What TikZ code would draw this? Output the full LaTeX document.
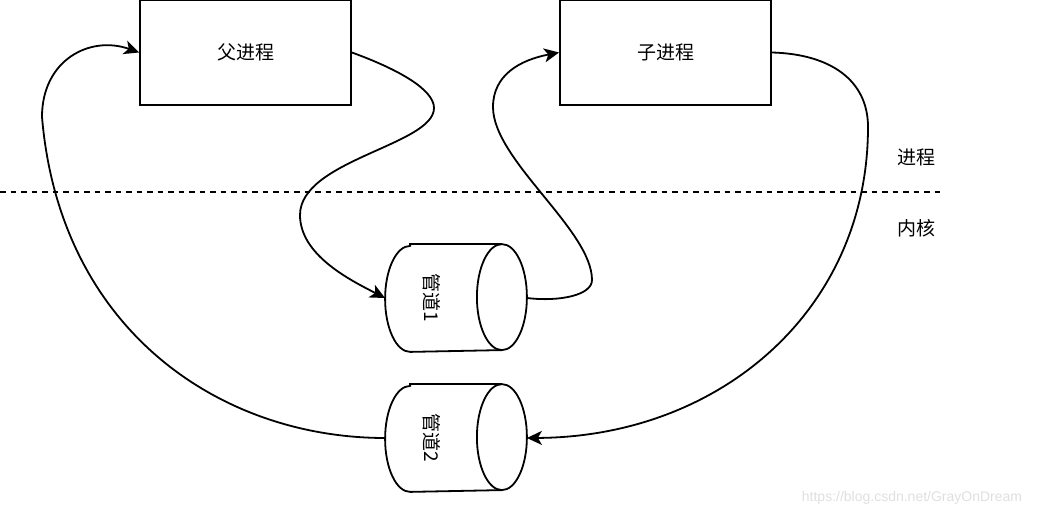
\documentclass[tikz,border=0pt]{standalone}
\usepackage{fontspec}
\usepackage{tikz}
\usetikzlibrary{arrows.meta}
\setmainfont{Liberation Sans}
\newfontfamily\cjk{Noto Sans CJK SC}

% horizontal cylinder drawn round a (borderless) node
\newcommand{\pipeoutline}[1]{
  \draw[-] ([xshift=25pt]#1.north west) -- ([xshift=-25pt]#1.north east)
      arc[start angle=-90,end angle=90,x radius=25,y radius=53]
      -- ([xshift=25pt]#1.south west)
      arc[start angle=90,end angle=270,x radius=25,y radius=53] -- cycle;
  \draw[-] ([xshift=-25pt]#1.north east) arc[start angle=270,end angle=90,x radius=25,y radius=53];
}

\begin{document}
\begin{tikzpicture}[x=1pt,y=-1pt,>={Stealth[length=15pt,width=14pt,inset=4pt]},->,
                    line width=1.8pt,node distance=420pt,
                    proc node/.style={rectangle,draw,minimum width=211pt,minimum height=105pt,font=\cjk\fontsize{19}{22}\selectfont},
                    pipe node/.style={rectangle,minimum width=140pt,minimum height=106pt,inner sep=0pt},
                    pipe text/.style={inner sep=0pt,font=\cjk\fontsize{19}{22}\selectfont},
                    side label/.style={font=\cjk\fontsize{19}{22}\selectfont}]

  \useasboundingbox (0,0) rectangle (1047,518);

  \node[proc node] (parent) at (245.5,52.5) {父进程};
  \node[proc node] (child) [right of=parent] {子进程};
  \node[pipe node] (pipe1) at (456,298) {};
  \node[pipe node] (pipe2) at (456,438) {};
  \pipeoutline{pipe1}
  \pipeoutline{pipe2}
  \node[pipe text] (pipe1 text) at ([xshift=-24pt]pipe1.center) {\rotatebox{-90}{管道1}};
  \node[pipe text] (pipe2 text) at ([xshift=-24pt]pipe2.center) {\rotatebox{-90}{管道2}};

  \node[side label] (user) at (916,157) {进程};
  \node[side label] (kernel) at (916,228) {内核};

  % user space / kernel space
  \draw[-,line width=1.5pt,dash pattern=on 5.5pt off 5pt] (0,192) -- (940,192);

  \draw (parent.east) .. controls (400,70) and (434,90) .. (434,108)
                      .. controls (434,145) and (300,160) .. (300,215)
                      .. controls (300,255) and (350,280) .. (pipe1.west);
  \draw (pipe1.east) .. controls (560,302) and (592,295) .. (592,280)
                     .. controls (592,230) and (493,160) .. (493,107)
                     .. controls (493,75) and (520,60) .. (child.west);
  \draw (child.east) .. controls (830,54) and (868,80) .. (868,127)
                     .. controls (868,310) and (720,437) .. (pipe2.east);
  \draw (pipe2.west) .. controls (220,438) and (60,330) .. (42,117)
                     .. controls (42,60) and (90,35) .. (parent.west);

  \node[text=gray!25,font=\fontsize{14}{16}\selectfont] (mark) at (912,498) {https://blog.csdn.net/GrayOnDream};
\end{tikzpicture}
\end{document}
